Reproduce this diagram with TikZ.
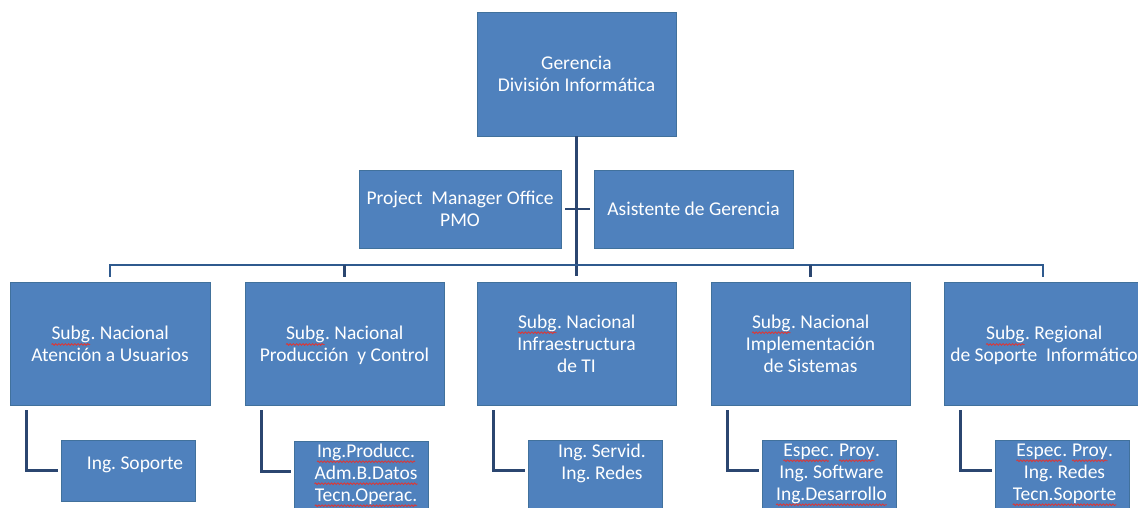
\documentclass[tikz,border=0pt]{standalone}
\usepackage{fontspec}
\setmainfont{Carlito}
\usetikzlibrary{calc,decorations.pathmorphing}

\definecolor{boxfill}{HTML}{4F81BD}
\definecolor{boxedge}{HTML}{41719C}
\definecolor{linkcol}{HTML}{2B4670}
\definecolor{buscol}{HTML}{2F5A8E}
\definecolor{spellred}{HTML}{D83A3A}

% word flagged with a red wavy underline, text kept white
\newcommand\spell[1]{\tikz[baseline=(w.base), x=1pt, y=1pt]{%
  \node[shape=rectangle, inner sep=0pt, outer sep=0pt, minimum width=0pt,
    minimum height=0pt, draw=none, fill=none, text=white] (w) {#1};
  \draw[draw=spellred, fill=none, line width=0.9pt, decorate,
    decoration={snake, amplitude=0.8pt, segment length=3.2pt}]
    ($(w.base west)+(0,-4.5)$) -- ($(w.base east)+(0,-4.5)$);}}

\newcommand\labelfont{\fontsize{19.5}{22}\selectfont\frenchspacing}
% taller strut that lowers a two-line label inside its box
\newcommand\topstrut{\rule{0pt}{21.5pt}}

\tikzset{
  unit/.style={draw=boxedge, fill=boxfill, line width=0.8pt, text=white,
    align=center, font=\labelfont, inner sep=0pt},
  mainbox/.style={unit, minimum width=199pt, minimum height=123pt},
  sidebox/.style={unit, minimum height=78pt},
  subbox/.style={unit, minimum width=134pt},
  subtext/.style={text=white, align=center, font=\labelfont,
    inner sep=0pt, anchor=north},
  link/.style={draw=linkcol, line width=2.8pt},
  bus/.style={draw=buscol, line width=2.2pt},
}

\begin{document}
\begin{tikzpicture}[x=1pt, y=-1pt]
  \useasboundingbox (0,0) rectangle (1138,508);
  \clip (0,0) rectangle (1138,508);
  \fill[white] (0,0) rectangle (1138,508);

  % head of the division and its staff units
  \node[mainbox, minimum height=124pt] (top) at (576.5,74) {Gerencia\\División Informática};
  \node[sidebox, minimum width=202pt] (pmo) at (460,209) {Project~~Manager Office\\PMO};
  \node[sidebox, minimum width=199pt] (asis) at (693.5,209) {Asistente de Gerencia};

  % sub-management units
  \node[mainbox, minimum width=200pt] (b1) at (110,343.5) {\topstrut\spell{Subg}. Nacional\\Atención a Usuarios\strut};
  \node[mainbox] (b2) at (344.5,343.5) {\topstrut\spell{Subg}. Nacional\\Producción~~y Control\strut};
  \node[mainbox] (b3) at (576.5,343.5) {\spell{Subg}. Nacional\\Infraestructura\\de TI};
  \node[mainbox] (b4) at (810.5,343.5) {\spell{Subg}. Nacional\\Implementación\\de Sistemas};
  \node[mainbox, minimum width=200pt] (b5) at (1044,343.5) {\topstrut\spell{Subg}. Regional\\de Soporte~~Informático\strut};

  % staff boxes below each unit
  \node[subbox, minimum height=61pt] (s1) at (128,470.5) {};
  \node[subbox, minimum height=71pt] (s2) at (361,476.5) {};
  \node[subbox, minimum height=72pt] (s3) at (595,476) {};
  \node[subbox, minimum height=72pt] (s4) at (829.5,476) {};
  \node[subbox, minimum height=72pt] (s5) at (1062.5,476) {};

  \node[subtext] (t1) at ($(s1.north)+(7,14)$) {\strut Ing. Soporte};
  \node[subtext] (t2) at ($(s2.north)+(5,1)$) {\strut\spell{Ing.Producc.}\\\spell{Adm.B.Datos}\\\spell{Tecn.Operac.}};
  \node[subtext] (t3) at ($(s3.north)+(7,2)$) {\strut Ing. Servid.\\Ing. Redes};
  \node[subtext] (t4) at ($(s4.north)+(2,1)$) {\strut\spell{Espec}. \spell{Proy}.\\Ing. Software\\\spell{Ing.Desarrollo}};
  \node[subtext] (t5) at ($(s5.north)+(2,1)$) {\strut\spell{Espec}. \spell{Proy}.\\Ing. Redes\\\spell{Tecn.Soporte}};

  % trunk from the head down to the distribution bus
  \coordinate (busL) at ($(b1.north)+(0,-17)$);
  \coordinate (busR) at ($(b5.north)+(-1,-17)$);
  \draw[link] (top.south) -- ($(top.south)+(0,140)$);
  \draw[link] ($(pmo.east)+(4,0)$) -- ($(asis.west)+(-4,0)$);

  % distribution bus with drops to each unit
  \draw[bus] ($(b1.north)+(0,-5)$) -- (busL) -- (busR) -- ($(b5.north)+(-1,-5)$);
  \draw[link] (b2.north |- busL) -- ($(b2.north)+(0,-5)$);
  \draw[link] (b4.north |- busL) -- ($(b4.north)+(0,-5)$);

  % elbows from each unit to its staff box
  \foreach \u/\s in {b1/s1, b2/s2, b3/s3, b4/s4, b5/s5}{
    \draw[link] ($(\u.south west)+(17,5)$) |- ($(\s.north west)+(-3,31)$);
  }
\end{tikzpicture}
\end{document}
